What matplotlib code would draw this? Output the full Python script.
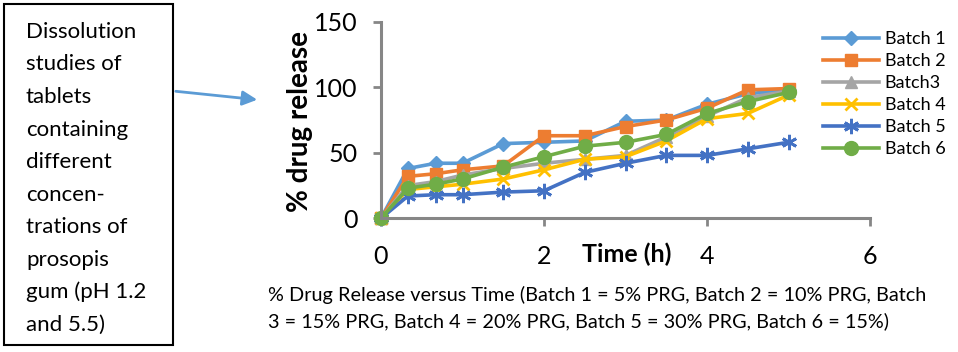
import matplotlib
matplotlib.use("Agg")
import matplotlib.pyplot as plt
from matplotlib.patches import Rectangle, FancyArrowPatch

plt.rcParams['font.family'] = ['Lato', 'DejaVu Sans']

# time points (h)
tiempo = [0, 0.33, 0.67, 1, 1.5, 2, 2.5, 3, 3.5, 4, 4.5, 5]

# % drug release per batch
batch1 = [0, 38, 42, 42, 57, 58, 59, 74, 75, 87, 95, 98]
batch2 = [0, 32, 34, 37, 40, 63, 63, 70, 75, 84, 98, 99]
batch3 = [0, 25, 28, 33, 38, 42, 45, 48, 62, 78, 92, 97]
batch4 = [0, 22, 24, 26, 30, 37, 45, 47, 59, 76, 80, 94]
batch5 = [0, 17, 18, 18, 20, 21, 35, 42, 48, 48, 53, 58]
batch6 = [0, 23, 26, 30, 39, 47, 55, 58, 64, 80, 89, 96]

nombres = ["Batch 1", "Batch 2", "Batch3", "Batch 4", "Batch 5", "Batch 6"]
series = [batch1, batch2, batch3, batch4, batch5, batch6]
colores = ["#5B9BD5", "#ED7D31", "#A5A5A5", "#FFC000", "#4472C4", "#70AD47"]
marcadores = ["D", "s", "^", "x", (6, 2, 0), "o"]
tamanos = [7, 9, 8, 9, 11, 10]

x_ticks = [0, 2, 4, 6]
y_ticks = [0, 50, 100, 150]

box_lines = ["Dissolution", "studies of", "tablets", "containing", "different",
             "concen-", "trations of", "prosopis", "gum (pH 1.2", "and 5.5)"]
caption = ["% Drug Release versus Time (Batch 1 = 5% PRG, Batch 2 = 10% PRG, Batch",
           "3 = 15% PRG, Batch 4 = 20% PRG, Batch 5 = 30% PRG, Batch 6 = 15%)"]

W, H = 958, 352
fig = plt.figure(figsize=(W / 100, H / 100), dpi=100)
ax = fig.add_axes([381 / W, (H - 218.3) / H, (870 - 381) / W, (218.3 - 21.7) / H])

for datos, nombre, c, m, ms in zip(series, nombres, colores, marcadores, tamanos):
    mew = 2 if m in ("x", (6, 2, 0)) else 1
    ax.plot(tiempo, datos, color=c, lw=2.6, marker=m, markersize=ms,
            markeredgecolor=c, markerfacecolor=c, markeredgewidth=mew,
            label=nombre, clip_on=False)

ax.set_xlim(0, 6)
ax.set_ylim(0, 150)
ax.set_xticks(x_ticks)
ax.set_yticks(y_ticks)
for s in ("top", "right"):
    ax.spines[s].set_visible(False)
for s in ("left", "bottom"):
    ax.spines[s].set_color("#868686")
    ax.spines[s].set_linewidth(2.2)
ax.tick_params(colors="#868686", width=2, length=6, labelsize=18, labelcolor="black")
ax.tick_params(axis="x", pad=13)
ax.tick_params(axis="y", pad=11)

ax.set_ylabel("% drug release", fontsize=20, fontweight="bold")
ax.yaxis.set_label_coords(-0.14, 0.49)
ax.set_xlabel("Time (h)", fontsize=18, fontweight="bold", va="center")
ax.xaxis.set_label_coords(0.503, -0.183)

fig.legend(loc="upper left", bbox_to_anchor=(816 / W, 1 - 24 / H), frameon=False,
           fontsize=13, handlelength=3.1, handletextpad=0.3, labelspacing=0.33,
           borderaxespad=0)

# caja de texto de la izquierda
fig.patches.append(Rectangle((4 / W, 1 - 345 / H), 169 / W, 341 / H,
                             transform=fig.transFigure, fill=False,
                             edgecolor="black", lw=1.5))
for i, linea in enumerate(box_lines):
    fig.text(26 / W, 1 - (32 + i * 32.5) / H, linea, fontsize=16,
             va="center", ha="left")

fig.patches.append(FancyArrowPatch((173 / W, 1 - 91 / H), (260 / W, 1 - 100 / H),
                                   transform=fig.transFigure, arrowstyle="-|>",
                                   mutation_scale=22, color="#5B9BD5", lw=2))

for i, linea in enumerate(caption):
    fig.text(268 / W, 1 - (295 + i * 26) / H, linea, fontsize=14.3,
             va="center", ha="left")

fig.savefig("out.png", dpi=100)
